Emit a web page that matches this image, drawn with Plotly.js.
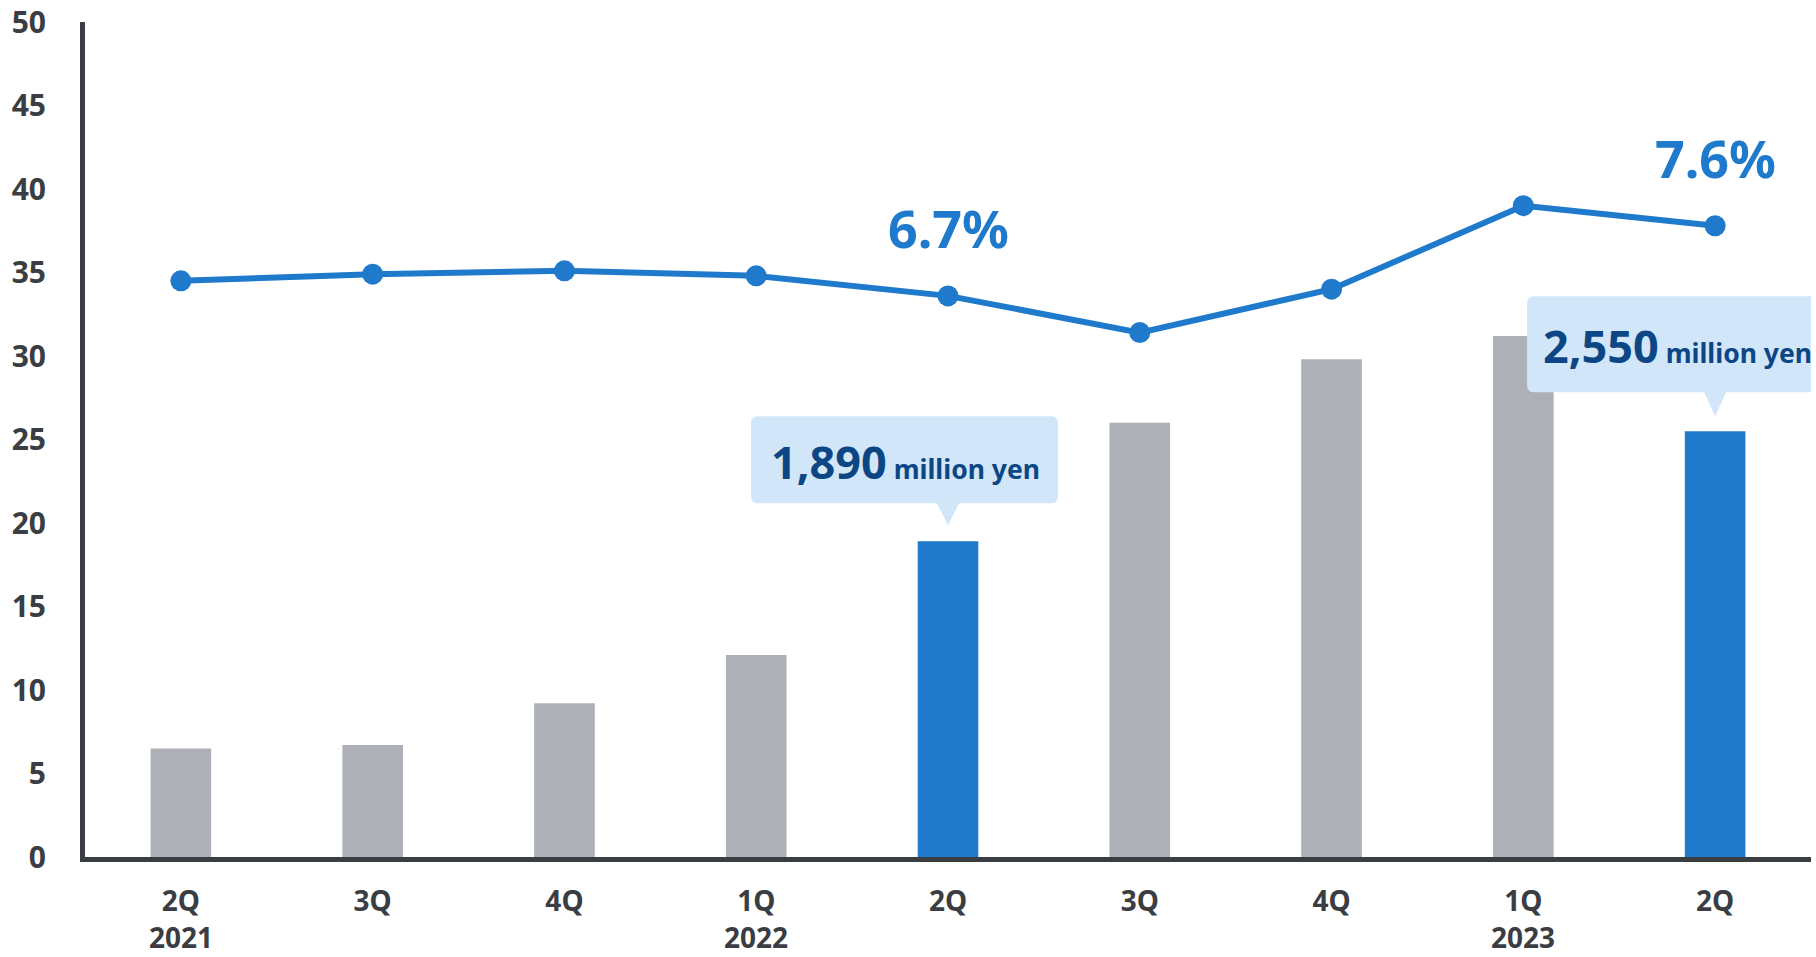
<!DOCTYPE html>
<html>
<head>
<meta charset="utf-8">
<script src="https://cdn.plot.ly/plotly-3.0.1.min.js"></script>
<style>
  html, body { margin: 0; padding: 0; background: #ffffff; }
  #chart { width: 1816px; height: 957px; }
</style>
</head>
<body>
<div id="chart"></div>
<script>
// ---- data ----
const periods  = ['2Q 2021','3Q 2021','4Q 2021','1Q 2022','2Q 2022','3Q 2022','4Q 2022','1Q 2023','2Q 2023'];
const quarters = ['2Q','3Q','4Q','1Q','2Q','3Q','4Q','1Q','2Q'];
const years    = ['2021','','','2022','','','','2023',''];
const profit   = [6.5, 6.7, 9.2, 12.1, 18.9, 26.0, 29.8, 31.2, 25.5];          // hundred million yen
const margin   = [6.9, 6.98, 7.02, 6.96, 6.72, 6.28, 6.8, 7.8, 7.56];          // %
const highlight = [false,false,false,false,true,false,false,false,true];
const callouts = [
  {idx: 4, value: '1,890', unit: 'million yen', pct: '6.7%'},
  {idx: 8, value: '2,550', unit: 'million yen', pct: '7.6%'}
];
const yTicks = [0,5,10,15,20,25,30,35,40,45,50];

// ---- style ----
const GREY = '#adb0b7', BLUE = '#1f7acb', DARK = '#3a3d42', BOXFILL = '#d1e6f8', BOXTEXT = '#0c4684';
const FONT = 'Noto Sans, Open Sans, sans-serif';

const barTrace = {
  type: 'bar', x: periods, y: profit,
  marker: {color: highlight.map(h => h ? BLUE : GREY)},
  width: 0.316, hoverinfo: 'skip', yaxis: 'y'
};
const lineTrace = {
  type: 'scatter', mode: 'lines+markers', x: periods, y: margin, yaxis: 'y2',
  line: {color: BLUE, width: 6}, marker: {color: BLUE, size: 21},
  hoverinfo: 'skip', cliponaxis: false
};

function calloutPath(x0, x1, y0, y1, r, tip, hb) {
  return `M ${x0+r},${y0} L ${-hb},${y0} L 0,${tip} L ${hb},${y0} L ${x1-r},${y0} ` +
         `Q ${x1},${y0} ${x1},${y0+r} L ${x1},${y1-r} Q ${x1},${y1} ${x1-r},${y1} ` +
         `L ${x0+r},${y1} Q ${x0},${y1} ${x0},${y1-r} L ${x0},${y0+r} Q ${x0},${y0} ${x0+r},${y0} Z`;
}
const boxGeom = [
  {x0: -197, x1: 110, y0: 38, y1: 125, tip: 16, tx: -43, ty: 80},
  {x0: -188, x1: 230, y0: 39, y1: 135, tip: 15, tx: -38, ty: 86}
];

const shapes = [], annotations = [];
callouts.forEach((c, i) => {
  const g = boxGeom[i];
  shapes.push({
    type: 'path', layer: 'above', xref: 'x', yref: 'y',
    xsizemode: 'pixel', ysizemode: 'pixel',
    xanchor: periods[c.idx], yanchor: profit[c.idx],
    path: calloutPath(g.x0, g.x1, g.y0, g.y1, 7, g.tip, 11),
    fillcolor: BOXFILL, line: {width: 0}
  });
  annotations.push({
    xref: 'x', yref: 'y', x: periods[c.idx], y: profit[c.idx],
    xshift: g.tx, yshift: g.ty, xanchor: 'center', yanchor: 'middle', showarrow: false,
    text: `<b>${c.value}</b><span style="font-size:26.5px"><b> ${c.unit}</b></span>`,
    font: {family: FONT, size: 45, color: BOXTEXT}
  });
  annotations.push({
    xref: 'x', yref: 'y2', x: periods[c.idx], y: margin[c.idx],
    yshift: 68, xanchor: 'center', yanchor: 'middle', showarrow: false,
    text: `<b>${c.pct}</b>`,
    font: {family: FONT, size: 52, color: BLUE}
  });
});
years.forEach((yr, i) => {
  if (!yr) return;
  annotations.push({
    xref: 'x', yref: 'paper', x: periods[i], y: 0, yshift: -80, borderpad: 0,
    xanchor: 'center', yanchor: 'middle', showarrow: false,
    text: `<b>${yr}</b>`, font: {family: FONT, size: 28, color: DARK}
  });
});

const layout = {
  width: 1816, height: 957,
  margin: {l: 85, r: 5, t: 22, b: 100, pad: 0},
  paper_bgcolor: '#ffffff', plot_bgcolor: '#ffffff',
  showlegend: false, barmode: 'overlay',
  font: {family: FONT, color: DARK},
  xaxis: {
    type: 'category', categoryorder: 'array', categoryarray: periods,
    range: [-0.5, 8.5], tickmode: 'array', tickvals: periods, ticktext: quarters.map(q => `<b>${q}</b>`),
    showline: true, linecolor: DARK, linewidth: 5, showgrid: false, zeroline: false,
    ticks: '', ticklabelstandoff: 15,
    tickfont: {family: FONT, size: 28, color: DARK}
  },
  yaxis: {
    range: [0, 50], tickmode: 'array', tickvals: yTicks, ticktext: yTicks.map(v => `<b>${v}</b>`),
    showline: true, linecolor: DARK, linewidth: 5, showgrid: false, zeroline: false,
    ticks: '', ticklabelstandoff: 28,
    tickfont: {family: FONT, size: 30, color: DARK}
  },
  yaxis2: {range: [0, 10], overlaying: 'y', visible: false, showgrid: false, zeroline: false},
  shapes: shapes,
  annotations: annotations
};

Plotly.newPlot('chart', [barTrace, lineTrace], layout, {displayModeBar: false, staticPlot: true});
</script>
</body>
</html>
